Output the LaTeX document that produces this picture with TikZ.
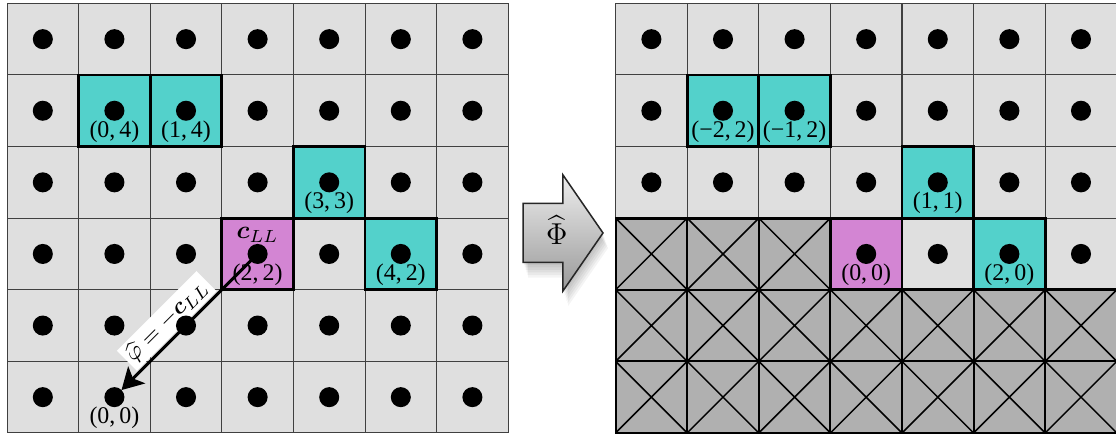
\documentclass[tikz,border=0pt]{standalone}
\usepackage{amsmath}
\usepackage{bm}
\usepackage{fontspec}
\setmainfont{Liberation Serif}
\usetikzlibrary{arrows.meta}
\pgfdeclarelayer{front}
\pgfsetlayers{main,front}
\definecolor{cellgray}{HTML}{DFDFDF}
\definecolor{hatchgray}{HTML}{B0B0B0}
\definecolor{cyancell}{HTML}{53D1CB}
\definecolor{magcell}{HTML}{D385D3}
\definecolor{gridline}{HTML}{404040}
\tikzset{
  cell/.style={draw=gridline, line width=0.4pt, fill=cellgray, minimum size=1cm, inner sep=0pt, outer sep=0pt},
  hicell/.style={cell, draw=black, line width=1.1pt},
  cyanbox/.style={hicell, fill=cyancell},
  magbox/.style={hicell, fill=magcell},
  hatch/.style={cell, draw=black, line width=0.8pt, fill=hatchgray,
    path picture={\draw[line width=0.6pt,black]
      (path picture bounding box.north west) -- (path picture bounding box.south east)
      (path picture bounding box.south west) -- (path picture bounding box.north east);}},
  dot/.style={circle, fill=black, minimum size=0.28cm, inner sep=0pt, outer sep=0pt},
  coordlabel/.style={font=\fontsize{9.5}{11}\selectfont, inner sep=0pt},
  cllabel/.style={font=\fontsize{10}{12}\selectfont, inner sep=0pt},
  stair/.style={line width=1.1pt, black},
  shiftarrow/.style={line width=1.2pt, {Stealth[length=8.5pt,width=9.5pt,inset=2pt]}-},
  arrowlabel/.style={sloped, above=0.5pt, fill=white, inner sep=1.5pt, font=\fontsize{9.5}{11}\selectfont},
  bigarrow/.style={top color=black!7, bottom color=black!40, draw=black!85, line width=0.6pt},
}
\begin{document}
\begin{tikzpicture}
\useasboundingbox[fill=white] (-0.098,-0.042) rectangle (15.489,6.047);

% ---------- left grid ----------
\foreach \i in {0,...,6}{\foreach \j in {0,...,5}{\node[cell] (L\i\j) at (\i+0.5,\j+0.5) {};}}
\node[cyanbox] (LA) at (L14) {};
\node[cyanbox] (LB) at (L24) {};
\node[cyanbox] (LC) at (L43) {};
\node[magbox]  (LD) at (L32) {};
\node[cyanbox] (LE) at (L52) {};

\node[coordlabel] (l04) at ([yshift=-0.29cm]L14.center) {(0,\,4)};
\node[coordlabel] (l14) at ([yshift=-0.29cm]L24.center) {(1,\,4)};
\node[coordlabel] (l33) at ([yshift=-0.29cm]L43.center) {(3,\,3)};
\node[coordlabel] (l22) at ([yshift=-0.29cm]L32.center) {(2,\,2)};
\node[coordlabel] (l42) at ([yshift=-0.29cm]L52.center) {(4,\,2)};
\node[coordlabel] (l00) at ([yshift=-0.29cm]L10.center) {(0,\,0)};
\node[cllabel] (lc) at ([yshift=0.27cm]L32.center) {$\bm{c}_{LL}$};

\begin{pgfonlayer}{front}
\foreach \i in {0,...,6}{\foreach \j in {0,...,5}{\node[dot] (dL\i\j) at (L\i\j) {};}}
\end{pgfonlayer}

\draw[shiftarrow] (dL10) -- (dL32.center)
  node[arrowlabel, pos=0.42] (phil) {$\widehat{\varphi} = -\bm{c}_{LL}$};

% ---------- block arrow ----------
\foreach \s in {1,...,6}{
  \fill[black, opacity=0.045, shift={(0.012*\s,-0.035*\s)}]
    (7.207,2.381) -- (7.765,2.381) -- (7.765,1.983) -- (8.324,2.793) -- (7.765,3.603) -- (7.765,3.205) -- (7.207,3.205) -- cycle;
}
\shadedraw[bigarrow]
  (7.207,2.381) -- (7.765,2.381) -- (7.765,1.983) -- (8.324,2.793) -- (7.765,3.603) -- (7.765,3.205) -- (7.207,3.205) -- cycle;
\node[font=\fontsize{11.6}{14}\selectfont, inner sep=0pt] (phi) at (7.68,2.835) {$\widehat{\Phi}$};

% ---------- right grid ----------
\foreach \i in {0,...,6}{\foreach \j in {3,4,5}{\node[cell] (R\i\j) at (9+\i,\j+0.5) {};}}
\foreach \i in {3,...,6}{\node[cell] (R\i2) at (9+\i,2.5) {};}
\foreach \i in {0,...,6}{\foreach \j in {0,1}{\node[hatch] (R\i\j) at (9+\i,\j+0.5) {};}}
\foreach \i in {0,1,2}{\node[hatch] (R\i2) at (9+\i,2.5) {};}

\node[cyanbox] (RA) at (R14) {};
\node[cyanbox] (RB) at (R24) {};
\node[cyanbox] (RC) at (R43) {};
\node[magbox]  (RD) at (R32) {};
\node[cyanbox] (RE) at (R52) {};

\draw[stair] (R03.south west) -- (R33.south west) -- (R32.south west) -- (R62.south east);

\node[coordlabel] (r14) at ([yshift=-0.29cm]R14.center) {(−2,\,2)};
\node[coordlabel] (r24) at ([yshift=-0.29cm]R24.center) {(−1,\,2)};
\node[coordlabel] (r43) at ([yshift=-0.29cm]R43.center) {(1,\,1)};
\node[coordlabel] (r32) at ([yshift=-0.29cm]R32.center) {(0,\,0)};
\node[coordlabel] (r52) at ([yshift=-0.29cm]R52.center) {(2,\,0)};

\begin{pgfonlayer}{front}
\foreach \i in {0,...,6}{\foreach \j in {3,4,5}{\node[dot] (dR\i\j) at (R\i\j) {};}}
\foreach \i in {3,...,6}{\node[dot] (dR\i2) at (R\i2) {};}
\end{pgfonlayer}
\end{tikzpicture}
\end{document}
